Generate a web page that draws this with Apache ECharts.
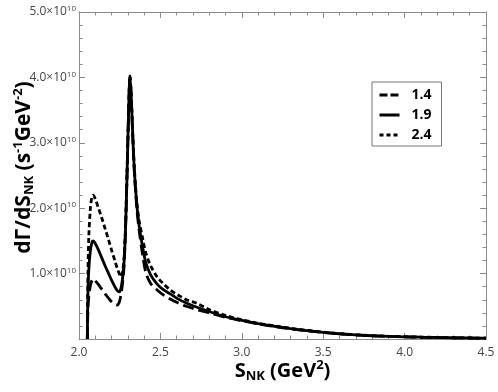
<!DOCTYPE html>
<html><head><meta charset="utf-8">
<script src="https://cdn.jsdelivr.net/npm/echarts@6/dist/echarts.min.js"></script>
<style>html,body{margin:0;padding:0;background:#fff}#c{width:498px;height:392px}</style>
</head><body><div id="c"></div>
<script>
// s_NK in GeV^2
const sValues = [2.051, 2.055, 2.06, 2.07, 2.08, 2.087, 2.10, 2.12, 2.14, 2.16, 2.18, 2.20, 2.22, 2.235, 2.247, 2.256, 2.265, 2.275, 2.285, 2.295, 2.305, 2.313, 2.32, 2.33, 2.34, 2.355, 2.37, 2.39, 2.41, 2.44, 2.48, 2.52, 2.56, 2.61, 2.66, 2.72, 2.8, 2.9, 3.0, 3.1, 3.2, 3.3, 3.4, 3.5, 3.6, 3.7, 3.8, 3.9, 4.0, 4.1, 4.2, 4.3, 4.4, 4.5];
// dGamma/dS_NK in units of 10^10 s^-1 GeV^-2
const rate14 = [0, 0.45, 0.65, 0.82, 0.9, 0.92, 0.89, 0.83, 0.76, 0.69, 0.63, 0.57, 0.53, 0.52, 0.56, 0.65, 0.8, 1.05, 1.6, 2.5, 3.5, 4.02, 3.75, 3.1, 2.55, 2.0, 1.65, 1.3, 1.02, 0.85, 0.75, 0.67, 0.61, 0.55, 0.5, 0.45, 0.40, 0.33, 0.28, 0.23, 0.19, 0.155, 0.125, 0.10, 0.078, 0.062, 0.049, 0.04, 0.033, 0.027, 0.022, 0.018, 0.015, 0.012];
const rate19 = [0, 0.7, 1.05, 1.35, 1.48, 1.50, 1.46, 1.36, 1.24, 1.12, 1.01, 0.90, 0.80, 0.74, 0.72, 0.76, 0.88, 1.1, 1.62, 2.5, 3.5, 4.02, 3.75, 3.12, 2.58, 2.05, 1.72, 1.42, 1.17, 0.98, 0.84, 0.75, 0.69, 0.61, 0.55, 0.49, 0.42, 0.34, 0.285, 0.235, 0.195, 0.16, 0.128, 0.102, 0.08, 0.063, 0.05, 0.041, 0.034, 0.028, 0.023, 0.019, 0.015, 0.012];
const rate24 = [0, 1.0, 1.55, 2.0, 2.18, 2.20, 2.14, 2.0, 1.85, 1.69, 1.53, 1.36, 1.20, 1.08, 1.0, 0.95, 1.0, 1.18, 1.68, 2.55, 3.5, 4.02, 3.78, 3.15, 2.62, 2.1, 1.8, 1.55, 1.32, 1.12, 0.95, 0.84, 0.75, 0.67, 0.6, 0.55, 0.45, 0.36, 0.295, 0.24, 0.2, 0.165, 0.132, 0.105, 0.082, 0.065, 0.052, 0.042, 0.035, 0.029, 0.024, 0.019, 0.016, 0.012];
const seriesNames = ['1.4', '1.9', '2.4'];
const xRange = [2.0, 4.5];
const yRange = [0, 5];

const FRAME = '#8a8a8a';
const FONT = 'Open Sans';
const pair = (ys) => sValues.map((s, i) => [s, ys[i]]);

const baseAxis = (extra) => Object.assign({
  type: 'value',
  axisLine: { show: true, onZero: false, lineStyle: { color: FRAME, width: 1 } },
  axisTick: { show: true, inside: true, length: 6, lineStyle: { color: FRAME } },
  minorTick: { show: true, splitNumber: 5, length: 3.5, lineStyle: { color: FRAME } },
  splitLine: { show: false },
  minorSplitLine: { show: false }
}, extra);

const makeRich = (fs) => ({
  m: { fontFamily: FONT, fontWeight: 'bold', fontSize: fs, color: '#000', lineHeight: 24 },
  sb: { fontFamily: FONT, fontWeight: 'bold', fontSize: 13, color: '#000', verticalAlign: 'bottom', lineHeight: 16 },
  sp: { fontFamily: FONT, fontWeight: 'bold', fontSize: 13, color: '#000', verticalAlign: 'top', lineHeight: 14 }
});

const chart = echarts.init(document.getElementById('c'), null, { renderer: 'canvas' });
chart.setOption({
  animation: false,
  backgroundColor: '#fff',
  grid: { left: 79, right: 12, top: 12, bottom: 53, containLabel: false, outerBoundsMode: 'none' },
  xAxis: [
    baseAxis({
      min: xRange[0], max: xRange[1], interval: 0.5, position: 'bottom',
      axisLabel: { margin: 8, color: '#444', fontSize: 12, fontFamily: FONT, formatter: v => v.toFixed(1) },
      name: '{m|S}{sb|NK}{m| (GeV}{sp|2}{m|)}',
      nameLocation: 'middle', nameGap: 20, nameMoveOverlap: false,
      nameTextStyle: { rich: makeRich(20) }
    }),
    baseAxis({
      min: xRange[0], max: xRange[1], interval: 0.5, position: 'top',
      axisLabel: { show: false }
    })
  ],
  yAxis: [
    baseAxis({
      min: yRange[0], max: yRange[1], interval: 1, position: 'left',
      axisLabel: {
        margin: 3, color: '#444', fontFamily: FONT,
        formatter: v => v === 0 ? '' : '{a|' + v.toFixed(1) + '×10}{s|10}',
        rich: {
          a: { fontSize: 12, fontFamily: FONT, color: '#444', lineHeight: 14 },
          s: { fontSize: 8, fontFamily: FONT, color: '#444', verticalAlign: 'top', lineHeight: 10 }
        }
      },
      name: '{m|dΓ/dS}{sb|NK}{m| (s}{sp|-1}{m|GeV}{sp|-2}{m|)}',
      nameLocation: 'middle', nameGap: 43, nameRotate: 90, nameMoveOverlap: false,
      nameTextStyle: { rich: makeRich(21), padding: [0, 0, 0, 16] }
    }),
    baseAxis({
      min: yRange[0], max: yRange[1], interval: 1, position: 'right',
      axisLabel: { show: false }
    })
  ],
  legend: {
    orient: 'vertical', left: 372, top: 82,
    padding: [6, 10, 4, 6], itemGap: 6, itemWidth: 20, itemHeight: 12,
    borderColor: '#777', borderWidth: 1, backgroundColor: '#fff',
    itemStyle: { opacity: 0 },
    textStyle: { fontFamily: FONT, fontWeight: 'bold', fontSize: 14, color: '#000', padding: [0, 0, 0, 7] },
    data: [
      { name: seriesNames[0], lineStyle: { type: [8, 3], width: 3, color: '#000' } },
      { name: seriesNames[1], lineStyle: { type: 'solid', width: 3, color: '#000' } },
      { name: seriesNames[2], lineStyle: { type: [4, 3], width: 3, color: '#000' } }
    ]
  },
  series: [
    { name: seriesNames[0], type: 'line', data: pair(rate14), symbol: 'none', smooth: 0.3,
      itemStyle: { color: '#000' },
      lineStyle: { color: '#000', width: 2.8, type: [11, 5] } },
    { name: seriesNames[1], type: 'line', data: pair(rate19), symbol: 'none', smooth: 0.3,
      itemStyle: { color: '#000' },
      lineStyle: { color: '#000', width: 2.8, type: 'solid' } },
    { name: seriesNames[2], type: 'line', data: pair(rate24), symbol: 'none', smooth: 0.3,
      itemStyle: { color: '#000' },
      lineStyle: { color: '#000', width: 2.8, type: [5, 3] } }
  ]
});
</script>
</body></html>
